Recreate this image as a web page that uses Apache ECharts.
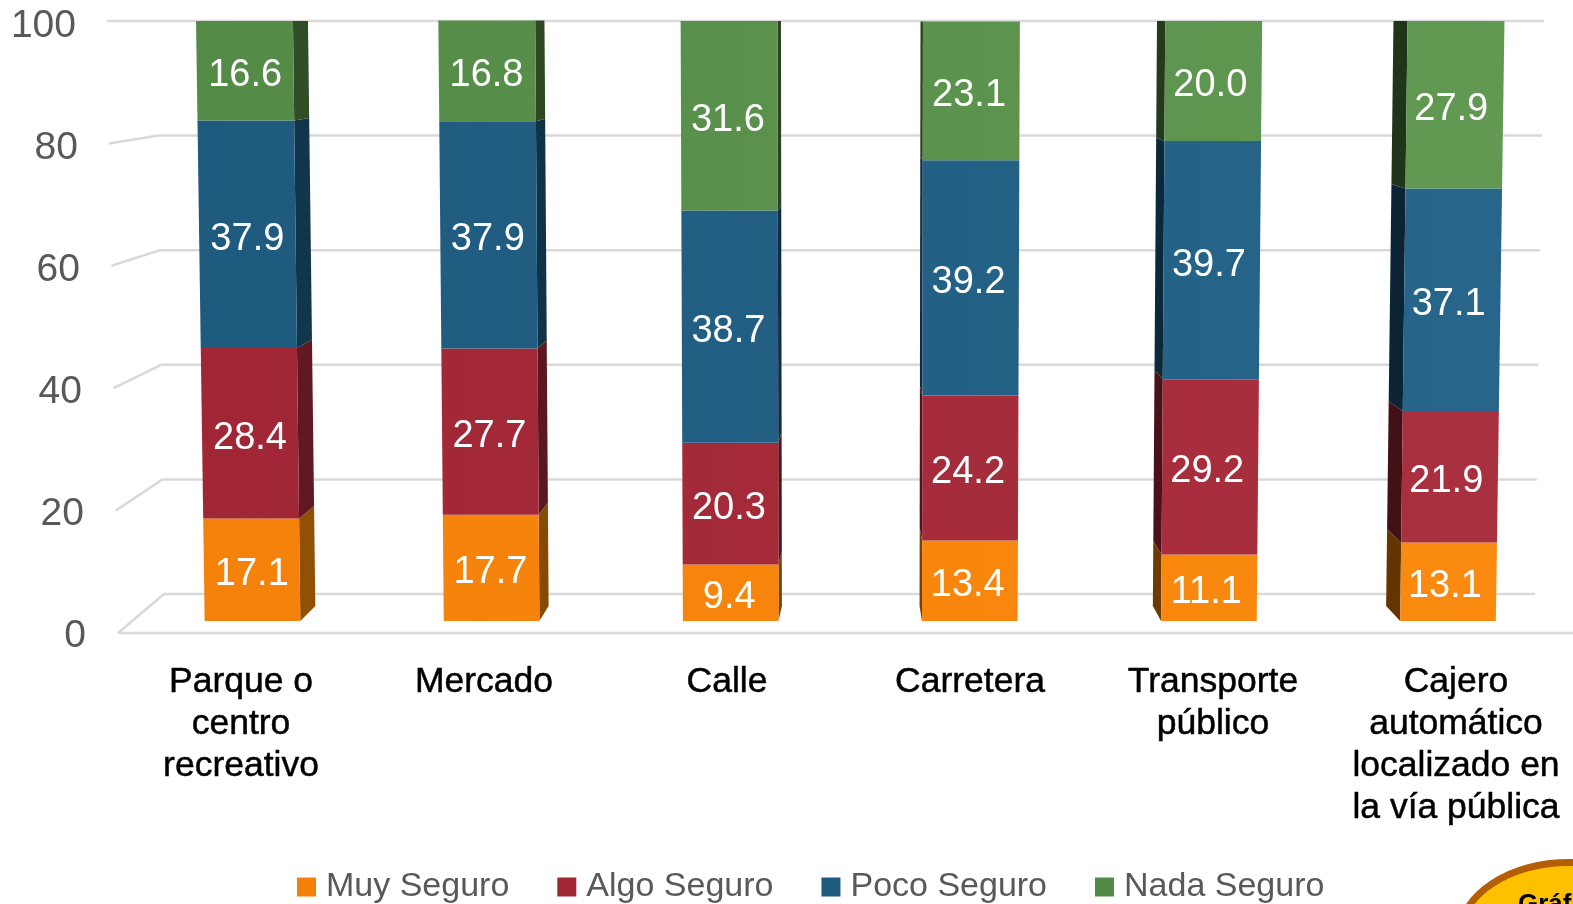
<!DOCTYPE html>
<html>
<head>
<meta charset="utf-8">
<style>html,body{margin:0;padding:0;background:#fff}#main{width:1573px;height:904px}</style>
<script src="https://cdn.jsdelivr.net/npm/echarts@6/dist/echarts.min.js"></script>
</head>
<body>
<div id="main"></div>
<script>
var categories = ['Parque o\ncentro\nrecreativo', 'Mercado', 'Calle', 'Carretera', 'Transporte\npúblico', 'Cajero\nautomático\nlocalizado en\nla vía pública'];
var seriesNames = ['Muy Seguro', 'Algo Seguro', 'Poco Seguro', 'Nada Seguro'];
var muySeguro = [17.1, 17.7, 9.4, 13.4, 11.1, 13.1];
var algoSeguro = [28.4, 27.7, 20.3, 24.2, 29.2, 21.9];
var pocoSeguro = [37.9, 37.9, 38.7, 39.2, 39.7, 37.1];
var nadaSeguro = [16.6, 16.8, 31.6, 23.1, 20.0, 27.9];
var yTicks = [0, 20, 40, 60, 80, 100];
var badgeText = 'Gráfica';

var allValues = [muySeguro, algoSeguro, pocoSeguro, nadaSeguro];
// colores: izquierda / derecha del grafico, cara frontal y cara lateral
var frontColors = [['#f4810a', '#fb8a10'], ['#a02636', '#a9303f'], ['#1e5a7e', '#27658a'], ['#538a46', '#619852']];
var sideColors = [['#965405', '#5f3200'], ['#641a24', '#3f1014'], ['#12394f', '#0b2232'], ['#335228', '#1e3319']];

var TOP = 21, BOTTOM = 621, VP = 851;
var myChart = echarts.init(document.getElementById('main'));

function ramp(pair) {
  return new echarts.graphic.LinearGradient(150, 0, 1500, 0, [{offset: 0, color: pair[0]}, {offset: 1, color: pair[1]}], true);
}
// perspectiva: abajo la grafica se cierra hacia el punto de fuga
function persp(x, y) {
  return VP + (x - VP) * (1 - 0.0132 * (y - TOP) / (BOTTOM - TOP));
}
// y en otro plano de profundidad, todos coinciden arriba
function depth(y, k) {
  return TOP + (y - TOP) * k;
}

function renderBar(s) {
  return function (params, api) {
    var i = api.value(0), from = api.value(1), to = api.value(2);
    var c0 = api.coord([i, from]), c1 = api.coord([i, to]);
    var half = api.size([1, 0])[0] * 0.2;
    var x0 = c0[0] - half, x1 = c0[0] + half;
    var y0 = c0[1], y1 = c1[1];
    var shift = -0.024 * (c0[0] - 870);
    var edge = shift >= 0 ? x1 : x0;
    var ks = 0.975;
    var front = [[persp(x0, y1), y1], [persp(x1, y1), y1], [persp(x1, y0), y0], [persp(x0, y0), y0]];
    var side = [[persp(edge, y1), y1], [persp(edge, y1) + shift, depth(y1, ks)], [persp(edge, y0) + shift, depth(y0, ks)], [persp(edge, y0), y0]];
    return {
      type: 'group',
      children: [
        {type: 'polygon', shape: {points: side}, style: {fill: ramp(sideColors[s])}},
        {type: 'polygon', shape: {points: front}, style: {fill: ramp(frontColors[s])}},
        {type: 'text', z2: 10, style: {
          text: allValues[s][i].toFixed(1), x: persp(c0[0], (y0 + y1) / 2) - (c0[0] - 245) * 0.003, y: (y0 + y1) / 2 + 5,
          fill: '#fff', font: '38px "Liberation Sans"', align: 'center', verticalAlign: 'middle'
        }}
      ]
    };
  };
}

function renderWall(params, api) {
  var v = api.value(0);
  var y = api.coord([0, v])[1];
  var yBack = depth(y, 0.955), yFront = depth(y, 1.02);
  var xa = 107 + (100 - v) * 0.11;
  var xb = 157 + (100 - v) * 0.07;
  var xc = 1544 - (100 - v) * 0.09;
  var line = {stroke: '#d9d9d9', lineWidth: 2.5};
  var kids = [
    {type: 'line', shape: {x1: xa, y1: yFront, x2: xb, y2: yBack}, style: line},
    {type: 'line', shape: {x1: xb, y1: yBack, x2: xc, y2: yBack}, style: line}
  ];
  if (v === 0) {
    kids.push({type: 'line', shape: {x1: xa, y1: yFront, x2: 1573, y2: yFront}, style: line});
  }
  return {type: 'group', children: kids};
}

var series = [{
  type: 'custom', silent: true, z: 1, xAxisIndex: 0, yAxisIndex: 0,
  renderItem: renderWall, data: yTicks.map(function (v) { return [v]; }), encode: {y: 0}
}];
allValues.forEach(function (vals, s) {
  series.push({
    name: seriesNames[s], type: 'custom', z: 2 + s, xAxisIndex: 0, yAxisIndex: 0,
    itemStyle: {color: frontColors[s][0]},
    renderItem: renderBar(s),
    encode: {x: 0, y: [1, 2]},
    data: vals.map(function (v, i) {
      var base = 0;
      for (var k = 0; k < s; k++) base += allValues[k][i];
      return [i, base, base + v];
    })
  });
});

var option = {
  backgroundColor: '#fff',
  animation: false,
  grid: [
    {left: 244.5, top: TOP, width: 1211.5, height: BOTTOM - TOP},
    {left: 241, top: 26, width: 1215, height: 610}
  ],
  xAxis: [
    {type: 'category', gridIndex: 0, data: categories, show: false, boundaryGap: false},
    {type: 'category', gridIndex: 1, data: categories, boundaryGap: false,
      axisLine: {show: false}, axisTick: {show: false},
      axisLabel: {interval: 0, color: '#000', fontFamily: 'Liberation Sans', fontSize: 35.5, lineHeight: 42.2, margin: 25,
        textBorderColor: '#000', textBorderWidth: 0.5}}
  ],
  yAxis: [
    {type: 'value', gridIndex: 0, min: 0, max: 100, show: false},
    {type: 'value', gridIndex: 1, min: 0, max: 100, interval: 20,
      axisLine: {show: false}, axisTick: {show: false}, splitLine: {show: false},
      axisLabel: {color: '#595959', fontFamily: 'Liberation Sans', fontSize: 39, margin: 155,
        formatter: function (v) { return '{t' + v + '|' + v + '}'; },
        rich: {
          t0: {padding: [0, 0, 0, 0]}, t20: {padding: [0, 2, 0, 0]}, t40: {padding: [0, 4, 0, 0]},
          t60: {padding: [0, 6, 0, 0]}, t80: {padding: [0, 8, 0, 0]}, t100: {padding: [0, 10, 0, 0]}
        }
      }}
  ],
  legend: {
    left: 292, top: 865, itemWidth: 19, itemHeight: 19, itemGap: 48, icon: 'rect',
    data: seriesNames, selectedMode: false,
    textStyle: {color: '#595959', fontFamily: 'Liberation Sans', fontSize: 34, padding: [0, 0, 0, 5]}
  },
  series: series,
  graphic: [
    {type: 'ellipse', shape: {cx: 1570, cy: 934.5, rx: 110, ry: 72}, style: {fill: '#ffc000', stroke: '#b45f06', lineWidth: 7}},
    {type: 'text', x: 1518, y: 892, style: {text: badgeText, font: 'bold 26px "Liberation Sans"', fill: '#000'}}
  ]
};
myChart.setOption(option);
window.onresize = myChart.resize;
</script>
</body>
</html>
